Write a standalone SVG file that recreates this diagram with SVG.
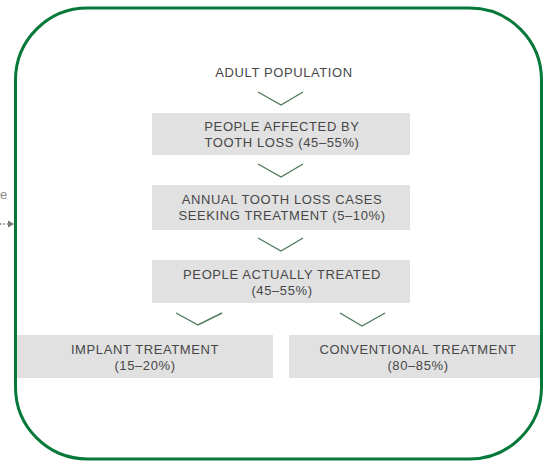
<svg xmlns="http://www.w3.org/2000/svg" width="544" height="462" viewBox="0 0 544 462">
<style>
.box{fill:#e1e1e1}
.t{font-family:"Liberation Sans",Arial,sans-serif;font-size:13px;letter-spacing:0.6px;fill:#474747;text-anchor:middle}
.chev{fill:none;stroke:#4f7a5c;stroke-width:1.4}
</style>
<rect x="0" y="0" width="544" height="462" fill="#ffffff"/>
<text x="0" y="199" style="font-family:'Liberation Sans',Arial,sans-serif;font-size:13px;fill:#8a8a8a">e</text>
<g id="connectors">
<path class="chev" d="M258 92 L281 105 L303 92"/>
<path class="chev" d="M258 164 L281 177 L303 164"/>
<path class="chev" d="M258 238 L281 251 L303 238"/>
<path class="chev" d="M176 313 L198 325 L222 313"/>
<path class="chev" d="M340 313 L362 326 L385 313"/>
<line x1="0" y1="224" x2="8" y2="224" stroke="#777" stroke-width="1.5" stroke-dasharray="1.5 2"/>
<polygon points="8,220.5 14,224 8,227.5" fill="#777"/>
</g>
<g id="n-adult">
<text class="t" x="284" y="77">ADULT POPULATION</text>
</g>
<g id="n-affected">
<rect class="box" x="152" y="113" width="258" height="42"/>
<text class="t" x="282" y="131">PEOPLE AFFECTED BY</text>
<text class="t" x="282" y="147">TOOTH LOSS (45–55%)</text>
</g>
<g id="n-annual">
<rect class="box" x="152" y="185" width="258" height="45"/>
<text class="t" x="282" y="204">ANNUAL TOOTH LOSS CASES</text>
<text class="t" x="282" y="220">SEEKING TREATMENT (5–10%)</text>
</g>
<g id="n-treated">
<rect class="box" x="152" y="260" width="258" height="43"/>
<text class="t" x="282" y="279">PEOPLE ACTUALLY TREATED</text>
<text class="t" x="282" y="295">(45–55%)</text>
</g>
<g id="n-implant">
<rect class="box" x="15" y="335" width="258" height="43"/>
<text class="t" x="145" y="354">IMPLANT TREATMENT</text>
<text class="t" x="145" y="370">(15–20%)</text>
</g>
<g id="n-conventional">
<rect class="box" x="289" y="335" width="253" height="43"/>
<text class="t" x="418" y="354">CONVENTIONAL TREATMENT</text>
<text class="t" x="418" y="370">(80–85%)</text>
</g>
<rect x="15.5" y="8" width="526" height="451" rx="72" ry="72" fill="none" stroke="#06793a" stroke-width="3"/>
</svg>
